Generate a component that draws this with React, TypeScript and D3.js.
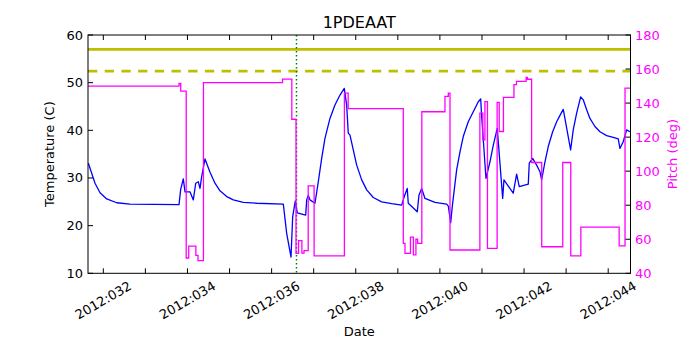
import { useRef, useEffect } from 'react';
import * as d3 from 'd3';

const W = 700;
const H = 350;
const PLOT = { left: 88, right: 630.5, top: 35, bottom: 273.3 };

// day-of-year ticks, labels on every other day
const dayTicks = [32, 33, 34, 35, 36, 37, 38, 39, 40, 41, 42, 43, 44];
const dayLabels = ['2012:032', '', '2012:034', '', '2012:036', '', '2012:038', '', '2012:040', '', '2012:042', '', '2012:044'];
const tempTicks = [10, 20, 30, 40, 50, 60];
const pitchTicks = [40, 60, 80, 100, 120, 140, 160, 180];

// temperature (C) samples: day, value
const tempDays = [
  31.645, 31.724, 31.803, 31.922, 32.081, 32.318, 32.635, 33.799, 33.839, 33.901,
  33.942, 34.06, 34.139, 34.196, 34.258, 34.298, 34.338, 34.417, 34.536, 34.654,
  34.773, 34.933, 35.089, 35.327, 35.645, 36.278, 36.294, 36.358, 36.461, 36.501,
  36.563, 36.61, 36.81, 36.834, 36.872, 36.912, 37.031, 37.109, 37.19, 37.268,
  37.387, 37.506, 37.625, 37.727, 37.784, 37.822, 37.863, 37.941, 38.022, 38.141,
  38.26, 38.416, 38.616, 38.854, 39.091, 39.153, 39.224, 39.248, 39.462, 39.502,
  39.567, 39.645, 39.883, 40.161, 40.2, 40.256, 40.294, 40.341, 40.398, 40.477,
  40.555, 40.674, 40.793, 40.912, 40.969, 40.993, 41.095, 41.19, 41.269, 41.363,
  41.492, 41.522, 41.743, 41.824, 41.886, 42.1, 42.124, 42.204, 42.299, 42.378,
  42.418, 42.497, 42.575, 42.68, 42.775, 42.87, 42.932, 43.107, 43.169, 43.25,
  43.345, 43.407, 43.488, 43.566, 43.685, 43.804, 43.963, 44.12, 44.239, 44.279,
  44.357, 44.438, 44.516,
];
const tempValues = [
  33.1, 31.0, 28.9, 26.9, 25.6, 24.8, 24.5, 24.4, 27.6, 29.8,
  27.1, 27.1, 25.4, 28.9, 29.2, 27.8, 30.3, 34.0, 31.2, 28.9,
  27.3, 26.1, 25.4, 24.9, 24.7, 24.5, 23.3, 18.4, 13.4, 21.9,
  25.2, 22.7, 22.2, 25.4, 26.4, 25.4, 24.7, 29.2, 34.1, 38.3,
  42.5, 45.3, 47.4, 48.8, 45.3, 39.4, 39.0, 35.9, 32.7, 29.6,
  27.5, 25.9, 25.0, 24.6, 24.3, 26.1, 27.8, 24.7, 22.9, 26.4,
  27.8, 25.7, 24.9, 24.5, 24.1, 20.6, 24.0, 27.5, 31.7, 35.5,
  38.7, 41.8, 43.9, 46.0, 46.6, 42.9, 29.9, 33.4, 36.9, 40.4,
  25.7, 29.6, 26.8, 30.8, 28.2, 28.7, 33.1, 34.1, 32.7, 31.3,
  29.6, 33.4, 36.6, 39.7, 41.8, 43.4, 44.4, 35.9, 40.1, 43.6,
  47.0, 46.4, 44.3, 42.5, 40.8, 39.7, 38.9, 38.5, 38.2, 36.2,
  37.6, 40.1, 39.7,
];

// pitch (deg) steps: value holds from that day onward
const pitchDays = [
  31.636, 33.8, 33.84, 33.97, 34.03, 34.2, 34.25, 34.38, 36.26, 36.48,
  36.58, 36.64, 36.72, 36.77, 36.87, 37.01, 37.73, 37.82, 39.13, 39.17,
  39.3, 39.37, 39.43, 39.47, 39.57, 40.12, 40.2, 40.24, 40.95, 41.02,
  41.07, 41.13, 41.36, 41.41, 41.51, 41.76, 41.82, 42.05, 42.08, 42.18,
  42.42, 42.92, 43.11, 43.35, 44.26, 44.4, 44.53,
];
const pitchValues = [
  150, 151.5, 147, 49, 56, 50.5, 47.5, 152, 154.1, 130.5,
  51.7, 59.2, 51.8, 53.3, 91.4, 50.2, 145.9, 136.8, 57.6, 51.7,
  61.2, 50.8, 60, 57.6, 134.9, 143.9, 145.9, 53.7, 134.1, 118.4,
  140.9, 54.7, 140.4, 123.3, 143.3, 150.8, 152.7, 155.1, 154, 105.1,
  55.6, 105.1, 50.2, 67.1, 56.1, 148.8, 148.8,
];

const limitHigh = 57;
const limitLow = 52.4;
const eventDay = 36.58;

const FONT = '"DejaVu Sans", sans-serif';

export default function App() {
  const svgRef = useRef<SVGSVGElement>(null);

  useEffect(() => {
    const svg = d3.select(svgRef.current);
    svg.selectAll('*').remove();

    const x = d3.scaleLinear().domain([31.636, 44.53]).range([PLOT.left, PLOT.right]);
    const yT = d3.scaleLinear().domain([10, 60]).range([PLOT.bottom, PLOT.top]);
    const yP = d3.scaleLinear().domain([40, 180]).range([PLOT.bottom, PLOT.top]);

    svg.append('rect').attr('width', W).attr('height', H).attr('fill', '#fff');

    const clip = svg.append('clipPath').attr('id', 'plotclip');
    clip.append('rect').attr('x', PLOT.left).attr('y', PLOT.top)
      .attr('width', PLOT.right - PLOT.left).attr('height', PLOT.bottom - PLOT.top);
    const g = svg.append('g').attr('clip-path', 'url(#plotclip)');

    const tempData = tempDays.map((d, i) => [d, tempValues[i]] as [number, number]);
    const tempLine = d3.line<[number, number]>().x(d => x(d[0])).y(d => yT(d[1]));
    g.append('path').attr('d', tempLine(tempData)).attr('fill', 'none')
      .attr('stroke', '#0000ff').attr('stroke-width', 1.3).attr('stroke-linejoin', 'round');

    g.append('line').attr('x1', PLOT.left).attr('x2', PLOT.right)
      .attr('y1', yT(limitHigh)).attr('y2', yT(limitHigh))
      .attr('stroke', '#bfbf00').attr('stroke-width', 2.7);
    g.append('line').attr('x1', PLOT.left).attr('x2', PLOT.right)
      .attr('y1', yT(limitLow)).attr('y2', yT(limitLow))
      .attr('stroke', '#bfbf00').attr('stroke-width', 2.7).attr('stroke-dasharray', '9.3,7.4');

    // event marker, snapped to the pixel grid so the dots stay green
    const ex = Math.round(x(eventDay)) + 0.5;
    g.append('line').attr('x1', ex).attr('x2', ex)
      .attr('y1', PLOT.top).attr('y2', PLOT.bottom)
      .attr('stroke', '#008000').attr('stroke-width', 1.5).attr('stroke-dasharray', '1.5,2.5');

    const pitchData = pitchDays.map((d, i) => [d, pitchValues[i]] as [number, number]);
    const pitchLine = d3.line<[number, number]>().x(d => x(d[0])).y(d => yP(d[1]))
      .curve(d3.curveStepAfter);
    g.append('path').attr('d', pitchLine(pitchData)).attr('fill', 'none')
      .attr('stroke', '#ff00ff').attr('stroke-width', 1.3);

    // frame
    svg.append('rect').attr('x', PLOT.left).attr('y', PLOT.top)
      .attr('width', PLOT.right - PLOT.left).attr('height', PLOT.bottom - PLOT.top)
      .attr('fill', 'none').attr('stroke', '#000').attr('stroke-width', 1);

    const TL = 5;
    // x ticks (bottom and top, inward)
    dayTicks.forEach((d, i) => {
      const px = x(d);
      svg.append('line').attr('x1', px).attr('x2', px).attr('y1', PLOT.bottom).attr('y2', PLOT.bottom - TL)
        .attr('stroke', '#000');
      svg.append('line').attr('x1', px).attr('x2', px).attr('y1', PLOT.top).attr('y2', PLOT.top + TL)
        .attr('stroke', '#000');
      if (dayLabels[i]) {
        svg.append('text').attr('transform', `translate(${px},${PLOT.bottom + 27}) rotate(-30)`)
          .attr('text-anchor', 'middle').attr('dominant-baseline', 'central')
          .attr('font-family', FONT).attr('font-size', 13).attr('fill', '#000')
          .text(dayLabels[i]);
      }
    });

    tempTicks.forEach(t => {
      const py = yT(t);
      svg.append('line').attr('x1', PLOT.left).attr('x2', PLOT.left + TL).attr('y1', py).attr('y2', py)
        .attr('stroke', '#000');
      svg.append('text').attr('x', PLOT.left - 5).attr('y', py)
        .attr('text-anchor', 'end').attr('dominant-baseline', 'central')
        .attr('font-family', FONT).attr('font-size', 13).attr('fill', '#000').text(t);
    });

    pitchTicks.forEach(t => {
      const py = yP(t);
      svg.append('line').attr('x1', PLOT.right).attr('x2', PLOT.right - TL).attr('y1', py).attr('y2', py)
        .attr('stroke', '#000');
      svg.append('text').attr('x', PLOT.right + 4.5).attr('y', py)
        .attr('text-anchor', 'start').attr('dominant-baseline', 'central')
        .attr('font-family', FONT).attr('font-size', 13).attr('fill', '#ff00ff').text(t);
    });

    const midY = (PLOT.top + PLOT.bottom) / 2;
    const midX = (PLOT.left + PLOT.right) / 2;
    svg.append('text').attr('transform', `translate(49,${midY}) rotate(-90)`)
      .attr('text-anchor', 'middle').attr('dominant-baseline', 'central')
      .attr('font-family', FONT).attr('font-size', 13).attr('fill', '#000').text('Temperature (C)');
    svg.append('text').attr('transform', `translate(672,${midY}) rotate(-90)`)
      .attr('text-anchor', 'middle').attr('dominant-baseline', 'central')
      .attr('font-family', FONT).attr('font-size', 13).attr('fill', '#ff00ff').text('Pitch (deg)');
    svg.append('text').attr('x', midX).attr('y', 336)
      .attr('text-anchor', 'middle')
      .attr('font-family', FONT).attr('font-size', 13).attr('fill', '#000').text('Date');
    svg.append('text').attr('x', midX).attr('y', 28)
      .attr('text-anchor', 'middle')
      .attr('font-family', FONT).attr('font-size', 16).attr('fill', '#000').text('1PDEAAT');
  }, []);

  return (
    <svg ref={svgRef} width={W} height={H}
      style={{ position: 'absolute', left: 0, top: 0, display: 'block' }} />
  );
}
